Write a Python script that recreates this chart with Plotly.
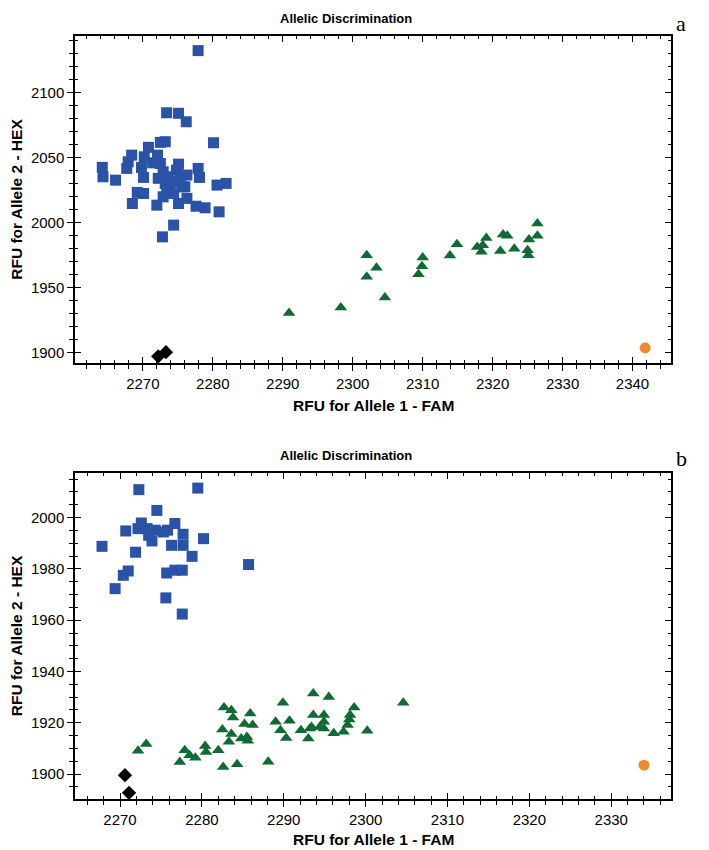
import plotly.graph_objects as go

# ---------------- Panel a data ----------------
a_blue_x = [2273.4, 2275.1, 2276.2, 2272.5, 2273.2, 2280.1, 2264.2, 2264.3, 2266.1, 2268.4,
            2267.9, 2267.7, 2270.8, 2270.2, 2269.8, 2270.1, 2269.2, 2270.1, 2268.5, 2272.1,
            2272.5, 2272.0, 2274.4, 2272.8, 2275.1, 2277.9, 2278.1, 2276.3, 2280.6, 2281.9,
            2276.3, 2277.6, 2278.9, 2280.9, 2275.1, 2272.9, 2273.6, 2273.2, 2273.9, 2274.6,
            2273.4, 2274.4, 2272.9, 2275.3, 2275.6, 2272.2, 2274.8, 2276.0, 2277.9, 2271.4]
a_blue_y = [2084.3, 2083.9, 2077.4, 2061.6, 2062.1, 2061.3, 2042.4, 2035.2, 2032.6, 2051.8,
            2046.7, 2041.6, 2057.8, 2050.5, 2042.4, 2034.7, 2023.2, 2022.4, 2014.7, 2051.8,
            2045.4, 2013.4, 1998.1, 1989.1, 2044.9, 2041.6, 2034.7, 2036.5, 2028.8, 2030.1,
            2018.6, 2012.6, 2011.4, 2008.3, 2014.7, 2039.0, 2035.2, 2030.1, 2027.5, 2031.4,
            2025.0, 2022.4, 2019.8, 2034.0, 2027.5, 2034.0, 2040.3, 2027.5, 2132.0, 2045.9]
a_green_x = [2290.9, 2298.3, 2302.0, 2303.4, 2302.0, 2304.6, 2310.0, 2309.9, 2309.4, 2313.9,
             2314.9, 2317.8, 2319.1, 2318.6, 2318.4, 2321.5, 2322.1, 2321.1, 2323.1, 2325.2,
             2326.4, 2326.4, 2325.0, 2325.1]
a_green_y = [1930.7, 1934.9, 1975.0, 1965.3, 1958.4, 1942.5, 1973.3, 1966.6, 1960.5, 1974.8,
             1983.5, 1981.4, 1988.3, 1982.7, 1977.6, 1990.9, 1989.9, 1978.3, 1979.9, 1987.1,
             1999.4, 1989.9, 1978.9, 1975.0]
a_black_x = [2272.2, 2273.3]
a_black_y = [1897.4, 1900.6]
a_orange_x = [2341.8]
a_orange_y = [1904.0]

# ---------------- Panel b data ----------------
b_blue_x = [2272.3, 2279.5, 2274.5, 2272.6, 2272.2, 2273.3, 2274.3, 2273.9, 2270.7, 2275.8,
            2276.7, 2277.7, 2276.3, 2277.7, 2280.2, 2267.8, 2271.9, 2278.8, 2285.7, 2271.0,
            2270.4, 2275.7, 2276.7, 2277.6, 2269.4, 2275.6, 2277.6, 2275.3, 2273.5]
b_blue_y = [2010.9, 2011.5, 2002.8, 1997.9, 1995.7, 1995.7, 1995.1, 1990.9, 1994.8, 1995.1,
            1997.7, 1993.5, 1989.2, 1989.2, 1991.8, 1988.8, 1986.5, 1984.9, 1981.7, 1979.2,
            1977.5, 1978.4, 1979.5, 1979.5, 1972.3, 1968.7, 1962.4, 1994.4, 1993.1]
b_green_x = [2272.2, 2273.2, 2277.3, 2277.9, 2278.5, 2279.2, 2280.4, 2280.5, 2282.0, 2282.6,
             2282.7, 2283.6, 2283.8, 2282.5, 2283.6, 2283.3, 2284.3, 2285.9, 2285.2, 2286.2,
             2284.8, 2285.5, 2285.6, 2288.1, 2289.9, 2289.0, 2290.7, 2289.6, 2290.3, 2292.1,
             2293.0, 2293.6, 2293.6, 2293.2, 2294.9, 2294.9, 2294.9, 2295.5, 2296.1, 2297.3,
             2297.8, 2298.0, 2298.1, 2298.6, 2300.2, 2304.6, 2294.4, 2293.4]
b_green_y = [1909.1, 1911.7, 1904.7, 1909.3, 1907.4, 1906.4, 1911.0, 1908.6, 1909.3, 1902.8,
             1926.0, 1924.9, 1922.1, 1917.4, 1915.6, 1912.6, 1903.8, 1923.6, 1919.5, 1919.1,
             1913.9, 1914.5, 1913.0, 1904.8, 1927.8, 1920.4, 1920.8, 1917.1, 1914.1, 1917.1,
             1913.9, 1931.4, 1923.0, 1917.8, 1923.0, 1920.4, 1917.8, 1930.1, 1915.9, 1916.5,
             1919.1, 1921.3, 1923.0, 1926.0, 1916.9, 1927.8, 1918.4, 1918.4]
b_black_x = [2270.6, 2271.1]
b_black_y = [1899.6, 1892.7]
b_orange_x = [2334.0]
b_orange_y = [1903.5]

# ---------------- axes setup ----------------
a_xrange = [2260.3, 2345.5]
a_yrange = [1892.3, 2143.2]
b_xrange = [2264.5, 2337.3]
b_yrange = [1890.3, 2017.4]
a_xtick, a_ytick, a_yminor = 10, 50, 10
b_xtick, b_ytick, b_yminor = 10, 20, 5
x_minor = 2

BLUE = "#2A52A6"
GREEN = "#0F6A33"
ORANGE = "#EE8A2C"
FONT = "Liberation Sans, Arial, sans-serif"

# the page body has an 8 px margin, so the figure is drawn 8 px in from the top-left
OFF = 8
FIG_W, FIG_H = 709 - OFF, 850 - OFF

fig = go.Figure()

def add_panel(xa, ya, bx, by, gx, gy, kx, ky, ox, oy):
    fig.add_trace(go.Scatter(x=bx, y=by, mode="markers", xaxis=xa, yaxis=ya,
                             marker=dict(symbol="square", size=11, color=BLUE, line=dict(width=0)),
                             showlegend=False))
    fig.add_trace(go.Scatter(x=gx, y=gy, mode="markers", xaxis=xa, yaxis=ya,
                             marker=dict(symbol="triangle-up", size=11, color=GREEN, line=dict(width=0)),
                             showlegend=False))
    fig.add_trace(go.Scatter(x=kx, y=ky, mode="markers", xaxis=xa, yaxis=ya,
                             marker=dict(symbol="diamond", size=11, color="black", line=dict(width=0)),
                             showlegend=False))
    fig.add_trace(go.Scatter(x=ox, y=oy, mode="markers", xaxis=xa, yaxis=ya,
                             marker=dict(symbol="circle", size=11, color=ORANGE, line=dict(width=0)),
                             showlegend=False))

add_panel("x", "y", a_blue_x, a_blue_y, a_green_x, a_green_y, a_black_x, a_black_y, a_orange_x, a_orange_y)
add_panel("x2", "y2", b_blue_x, b_blue_y, b_green_x, b_green_y, b_black_x, b_black_y, b_orange_x, b_orange_y)
# invisible traces so the overlay axes (inside ticks) are drawn
fig.add_trace(go.Scatter(x=a_black_x, y=a_black_y, xaxis="x3", yaxis="y3", mode="markers",
                         marker=dict(opacity=0), showlegend=False, hoverinfo="skip"))
fig.add_trace(go.Scatter(x=b_black_x, y=b_black_y, xaxis="x4", yaxis="y4", mode="markers",
                         marker=dict(opacity=0), showlegend=False, hoverinfo="skip"))

top_dom = [0.5714, 1.0]
bot_dom = [0.0, 0.4273]

tickfont = dict(family=FONT, size=15, color="black")
titlefont = dict(family=FONT, size=15.5, color="black")

def main_x(rng, dt, anchor):
    return dict(range=rng, dtick=dt, tick0=2270, tickmode="linear", ticks="outside",
                ticklen=6, tickwidth=1.3, tickcolor="black", showline=True, linecolor="black",
                linewidth=1.5, mirror=True, showgrid=False, zeroline=False, tickfont=tickfont,
                anchor=anchor, domain=[0, 1], automargin=False,
                minor=dict(dtick=x_minor, tick0=2270, tickmode="linear", ticks="outside",
                           ticklen=4, tickwidth=1.2, tickcolor="black", showgrid=False))

def main_y(rng, dt, mdt, dom, anchor):
    return dict(range=rng, dtick=dt, tick0=1900, tickmode="linear", ticks="outside",
                ticklen=6, tickwidth=1.3, tickcolor="black", showline=True, linecolor="black",
                linewidth=1.5, mirror=True, showgrid=False, zeroline=False, tickfont=tickfont,
                anchor=anchor, domain=dom, automargin=False,
                minor=dict(dtick=mdt, tick0=1900, tickmode="linear", ticks="outside",
                           ticklen=4, tickwidth=1.2, tickcolor="black", showgrid=False),
                title=dict(text="<b>RFU for Allele 2 - HEX</b>", font=titlefont, standoff=10))

def over_x(rng, dt, over, anchor):
    return dict(range=rng, dtick=dt, tick0=2270, tickmode="linear", ticks="inside",
                ticklen=6, tickwidth=1.3, tickcolor="black", showline=False,
                mirror="allticks", showgrid=False, zeroline=False, showticklabels=False,
                overlaying=over, anchor=anchor, side="bottom", automargin=False,
                minor=dict(dtick=x_minor, tick0=2270, tickmode="linear", ticks="inside",
                           ticklen=3, tickwidth=1.2, tickcolor="black", showgrid=False))

def over_y(rng, dt, mdt, over, anchor):
    return dict(range=rng, dtick=dt, tick0=1900, tickmode="linear", ticks="inside",
                ticklen=6, tickwidth=1.3, tickcolor="black", showline=False,
                mirror="allticks", showgrid=False, zeroline=False, showticklabels=False,
                overlaying=over, anchor=anchor, side="left", automargin=False,
                minor=dict(dtick=mdt, tick0=1900, tickmode="linear", ticks="inside",
                           ticklen=3, tickwidth=1.2, tickcolor="black", showgrid=False))

fig.update_layout(
    width=FIG_W, height=FIG_H,
    margin=dict(l=75 - OFF, r=38, t=36 - OFF, b=51, autoexpand=False),
    paper_bgcolor="white", plot_bgcolor="white",
    font=dict(family=FONT, color="black"),
    xaxis=main_x(a_xrange, a_xtick, "y"),
    yaxis=main_y(a_yrange, a_ytick, a_yminor, top_dom, "x"),
    xaxis2=main_x(b_xrange, b_xtick, "y2"),
    yaxis2=main_y(b_yrange, b_ytick, b_yminor, bot_dom, "x2"),
    xaxis3=over_x(a_xrange, a_xtick, "x", "y3"),
    yaxis3=over_y(a_yrange, a_ytick, a_yminor, "y", "x3"),
    xaxis4=over_x(b_xrange, b_xtick, "x2", "y4"),
    yaxis4=over_y(b_yrange, b_ytick, b_yminor, "y2", "x4"),
)

def py(px):
    # screen pixel row -> paper fraction (plot area bottom at row 799, height 763)
    return (799 - px) / 763

def pxx(px):
    # screen pixel column -> paper fraction (plot area from col 75, width 596)
    return (px - 75) / 596

TITLE_FONT = dict(family=FONT, size=13, color="black")
SERIF = dict(family="Liberation Serif, Times New Roman, serif", size=22, color="black")
for title_row in (18, 455):
    fig.add_annotation(text="<b>Allelic Discrimination</b>", xref="paper", yref="paper",
                       x=pxx(346), y=py(title_row), showarrow=False,
                       font=TITLE_FONT, xanchor="center", yanchor="middle")
for axis_title_row in (406, 839):
    fig.add_annotation(text="<b>RFU for Allele 1 - FAM</b>", xref="paper", yref="paper",
                       x=0.5, y=py(axis_title_row), showarrow=False,
                       font=titlefont, xanchor="center", yanchor="middle")
fig.add_annotation(text="a", xref="paper", yref="paper", x=pxx(681), y=py(24),
                   showarrow=False, font=SERIF, xanchor="center", yanchor="middle")
fig.add_annotation(text="b", xref="paper", yref="paper", x=pxx(681), y=py(458),
                   showarrow=False, font=SERIF, xanchor="center", yanchor="middle")

fig.write_html("out.html")
